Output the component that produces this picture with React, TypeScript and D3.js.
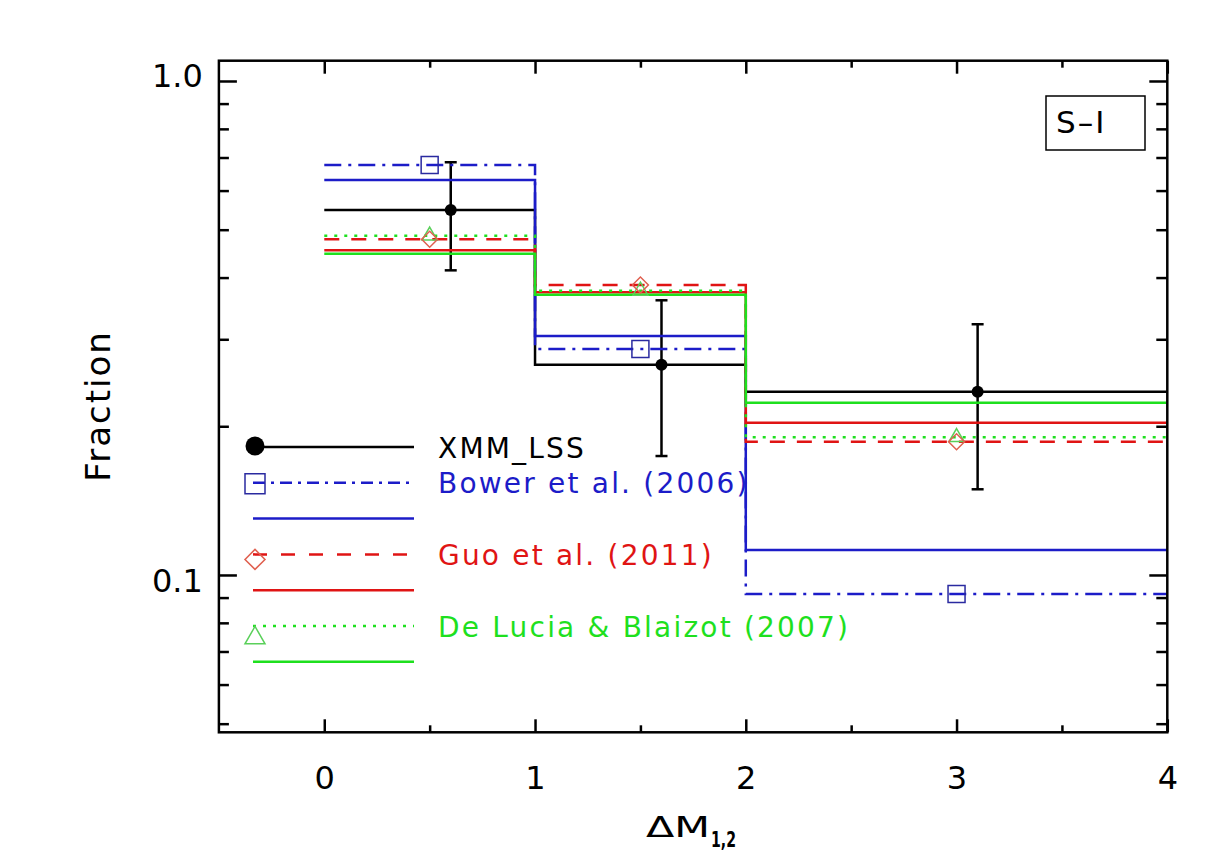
import React, { useEffect, useRef } from 'react';
import * as d3 from 'd3';

// bin edges of the histogram steps (last bin runs from 2 to 4)
const binEdges = [0, 1, 2, 4];
const binCenters = [0.5, 1.5, 3];

// XMM_LSS measurements, plotted slightly offset from bin centres
const xmmX = [0.6, 1.6, 3.1];
const xmmFraction = [0.548, 0.2665, 0.235];
const xmmLower = [0.4137, 0.1741, 0.1491];
const xmmUpper = [0.6847, 0.3598, 0.3218];

// semi-analytic models: symbol (broken line) and solid variants
const bowerSymbol = [0.676, 0.2868, 0.0915];
const bowerSolid = [0.6302, 0.3046, 0.1124];
const guoSymbol = [0.4781, 0.3864, 0.1861];
const guoSolid = [0.4543, 0.3735, 0.2033];
const deLuciaSymbol = [0.4862, 0.376, 0.19];
const deLuciaSolid = [0.4471, 0.3693, 0.2233];

const xTicks = [0, 1, 2, 3, 4];
const xMinorTicks = [0.5, 1.5, 2.5, 3.5];
const yTicks = [0.1, 1.0];
const yMinorTicks = [0.05, 0.06, 0.07, 0.08, 0.09, 0.2, 0.3, 0.4, 0.5, 0.6, 0.7, 0.8, 0.9];

const legendLabels = ['XMM_LSS', 'Bower et al. (2006)', 'Guo et al. (2011)', 'De Lucia & Blaizot (2007)'];

const WIDTH = 1216;
const HEIGHT = 866;
const LEFT = 218.9;
const RIGHT = 1167.3;
const TOP = 60.7;
const BOTTOM = 732.3;

const BLUE = '#1c1cc8';
const RED = '#e01414';
const GREEN = '#1ee01e';
const FONT = '"DejaVu Sans", sans-serif';

const DASH_DOT = '17 7 3 7';
const DASHED = '15 12';
const DOTTED = '3 7';

const App: React.FC = () => {
  const svgRef = useRef<SVGSVGElement>(null);

  useEffect(() => {
    if (!svgRef.current) {
      return;
    }
    const svg = d3.select(svgRef.current);
    svg.selectAll('*').remove();

    const x = d3.scaleLinear().domain([-0.5, 4]).range([LEFT, RIGHT]);
    const y = d3.scaleLog().domain([0.04803, 1.0992]).range([BOTTOM, TOP]);

    const step = d3
      .line<[number, number]>()
      .x((d) => x(d[0]))
      .y((d) => y(d[1]))
      .curve(d3.curveStepAfter);

    const stepPoints = (values: number[]): [number, number][] =>
      binEdges.map((e, i) => [e, values[Math.min(i, values.length - 1)]]);

    const plot = svg.append('g');

    const drawStep = (values: number[], color: string, dash: string | null) => {
      plot
        .append('path')
        .attr('d', step(stepPoints(values)) || '')
        .attr('fill', 'none')
        .attr('stroke', color)
        .attr('stroke-width', 2.5)
        .attr('stroke-dasharray', dash);
    };

    // XMM_LSS data first, models are drawn over it
    drawStep(xmmFraction, '#000', null);
    xmmX.forEach((xv, i) => {
      const cx = x(xv);
      plot
        .append('line')
        .attr('x1', cx)
        .attr('x2', cx)
        .attr('y1', y(xmmLower[i]))
        .attr('y2', y(xmmUpper[i]))
        .attr('stroke', '#000')
        .attr('stroke-width', 2.5);
      [xmmLower[i], xmmUpper[i]].forEach((v) => {
        plot
          .append('line')
          .attr('x1', cx - 6)
          .attr('x2', cx + 6)
          .attr('y1', y(v))
          .attr('y2', y(v))
          .attr('stroke', '#000')
          .attr('stroke-width', 2.5);
      });
      plot.append('circle').attr('cx', cx).attr('cy', y(xmmFraction[i])).attr('r', 6).attr('fill', '#000');
    });

    drawStep(bowerSymbol, BLUE, DASH_DOT);
    drawStep(bowerSolid, BLUE, null);
    drawStep(guoSymbol, RED, DASHED);
    drawStep(guoSolid, RED, null);
    drawStep(deLuciaSymbol, GREEN, DOTTED);
    drawStep(deLuciaSolid, GREEN, null);

    const square = (size: number) => d3.symbol().type(d3.symbolSquare).size(size * size)();
    const diamond = (diag: number) => d3.symbol().type(d3.symbolSquare).size((diag * diag) / 2)();
    const triangle = (w: number) => d3.symbol().type(d3.symbolTriangle).size((Math.sqrt(3) / 4) * w * w)();

    binCenters.forEach((xv, i) => {
      plot
        .append('path')
        .attr('d', square(17))
        .attr('transform', `translate(${x(xv)},${y(bowerSymbol[i])})`)
        .attr('fill', 'none')
        .attr('stroke', '#2a2aa0')
        .attr('stroke-width', 1.5);
      plot
        .append('path')
        .attr('d', triangle(15))
        .attr('transform', `translate(${x(xv)},${y(deLuciaSymbol[i])})`)
        .attr('fill', 'none')
        .attr('stroke', '#5ad05a')
        .attr('stroke-width', 1.5);
      plot
        .append('path')
        .attr('d', diamond(16))
        .attr('transform', `translate(${x(xv)},${y(guoSymbol[i])}) rotate(45)`)
        .attr('fill', 'none')
        .attr('stroke', '#e06050')
        .attr('stroke-width', 1.5);
    });

    // axes: ticks on all four sides
    const styleAxis = (g: d3.Selection<SVGGElement, unknown, null, undefined>) => {
      g.select('.domain').remove();
      g.selectAll('line').attr('stroke', '#000').attr('stroke-width', 2.5);
      g.attr('font-family', FONT).attr('font-size', 32);
    };

    svg
      .append('g')
      .attr('transform', `translate(0,${BOTTOM})`)
      .call(d3.axisBottom(x).tickValues(xTicks).tickSize(-13).tickPadding(34).tickFormat(d3.format('d')))
      .call(styleAxis)
      .selectAll('text')
      .attr('fill', '#000');
    svg
      .append('g')
      .attr('transform', `translate(0,${BOTTOM})`)
      .call(d3.axisBottom(x).tickValues(xMinorTicks).tickSize(-7).tickFormat(() => ''))
      .call(styleAxis);
    svg
      .append('g')
      .attr('transform', `translate(0,${TOP})`)
      .call(d3.axisTop(x).tickValues(xTicks).tickSize(-13).tickFormat(() => ''))
      .call(styleAxis);
    svg
      .append('g')
      .attr('transform', `translate(0,${TOP})`)
      .call(d3.axisTop(x).tickValues(xMinorTicks).tickSize(-7).tickFormat(() => ''))
      .call(styleAxis);

    const yLeft = svg
      .append('g')
      .attr('transform', `translate(${LEFT},0)`)
      .call(d3.axisLeft(y).tickValues(yTicks).tickSize(-18).tickPadding(16).tickFormat((d) => d3.format('.1f')(d as number)))
      .call(styleAxis);
    // the top label sits a little higher, clear of the frame corner
    yLeft
      .selectAll<SVGTextElement, number>('text')
      .attr('fill', '#000')
      .attr('dy', (d) => (d === 1 ? '0.18em' : '0.52em'));
    svg
      .append('g')
      .attr('transform', `translate(${LEFT},0)`)
      .call(d3.axisLeft(y).tickValues(yMinorTicks).tickSize(-10).tickFormat(() => ''))
      .call(styleAxis);
    svg
      .append('g')
      .attr('transform', `translate(${RIGHT},0)`)
      .call(d3.axisRight(y).tickValues(yTicks).tickSize(-18).tickFormat(() => ''))
      .call(styleAxis);
    svg
      .append('g')
      .attr('transform', `translate(${RIGHT},0)`)
      .call(d3.axisRight(y).tickValues(yMinorTicks).tickSize(-11).tickFormat(() => ''))
      .call(styleAxis);

    svg
      .append('rect')
      .attr('x', LEFT)
      .attr('y', TOP)
      .attr('width', RIGHT - LEFT)
      .attr('height', BOTTOM - TOP)
      .attr('fill', 'none')
      .attr('stroke', '#000')
      .attr('stroke-width', 2.5);

    // axis titles
    svg
      .append('text')
      .attr('transform', `translate(110,406) rotate(-90)`)
      .attr('text-anchor', 'middle')
      .attr('font-family', FONT)
      .attr('font-size', 34)
      .attr('letter-spacing', 2)
      .text('Fraction');

    svg
      .append('text')
      .attr('x', 646)
      .attr('y', 836.5)
      .attr('font-family', FONT)
      .attr('font-size', 29)
      .attr('textLength', 64)
      .attr('lengthAdjust', 'spacingAndGlyphs')
      .text('ΔM');
    svg
      .append('text')
      .attr('x', 711)
      .attr('y', 847)
      .attr('font-family', FONT)
      .attr('font-size', 22)
      .attr('font-weight', 700)
      .attr('textLength', 25)
      .attr('lengthAdjust', 'spacingAndGlyphs')
      .text('1,2');

    // panel label
    svg
      .append('rect')
      .attr('x', 1046)
      .attr('y', 96)
      .attr('width', 99)
      .attr('height', 54)
      .attr('fill', 'none')
      .attr('stroke', '#000')
      .attr('stroke-width', 1.5);
    svg
      .append('text')
      .attr('x', 1056)
      .attr('y', 133)
      .attr('font-family', FONT)
      .attr('font-size', 31)
      .attr('letter-spacing', 2)
      .text('S–I');

    // legend
    const legend = svg.append('g');
    const rowY = (row: number) => 447 + row * 35.8;
    const legendLine = (row: number, color: string, dash: string | null) => {
      legend
        .append('line')
        .attr('x1', 253)
        .attr('x2', 414)
        .attr('y1', rowY(row))
        .attr('y2', rowY(row))
        .attr('stroke', color)
        .attr('stroke-width', 2.5)
        .attr('stroke-dasharray', dash);
    };
    const legendText = (row: number, color: string, label: string) => {
      legend
        .append('text')
        .attr('x', 438)
        .attr('y', rowY(row) + 10.5)
        .attr('fill', color)
        .attr('font-family', FONT)
        .attr('font-size', 28)
        .attr('letter-spacing', 2.2)
        .text(label);
    };

    legendLine(0, '#000', null);
    legend.append('circle').attr('cx', 255).attr('cy', rowY(0) - 1).attr('r', 9.5).attr('fill', '#000');
    legendText(0, '#000', legendLabels[0]);

    legendLine(1, BLUE, '12 6 3 6');
    legend
      .append('path')
      .attr('d', square(20))
      .attr('transform', `translate(255,${rowY(1) + 1})`)
      .attr('fill', 'none')
      .attr('stroke', '#2a2aa0')
      .attr('stroke-width', 1.5);
    legendText(1, BLUE, legendLabels[1]);
    legendLine(2, BLUE, null);

    legendLine(3, RED, '14 14');
    legend
      .append('path')
      .attr('d', diamond(20))
      .attr('transform', `translate(255,${rowY(3) + 5}) rotate(45)`)
      .attr('fill', 'none')
      .attr('stroke', '#e06050')
      .attr('stroke-width', 1.5);
    legendText(3, RED, legendLabels[2]);
    legendLine(4, RED, null);

    legendLine(5, GREEN, DOTTED);
    legend
      .append('path')
      .attr('d', triangle(20))
      .attr('transform', `translate(255,${rowY(5) + 12})`)
      .attr('fill', 'none')
      .attr('stroke', '#5ad05a')
      .attr('stroke-width', 1.5);
    legendText(5, GREEN, legendLabels[3]);
    legendLine(6, GREEN, null);
  }, []);

  return (
    <svg
      ref={svgRef}
      width={WIDTH}
      height={HEIGHT}
      style={{ position: 'absolute', left: 0, top: 0, background: '#fff' }}
    />
  );
};

export default App;
